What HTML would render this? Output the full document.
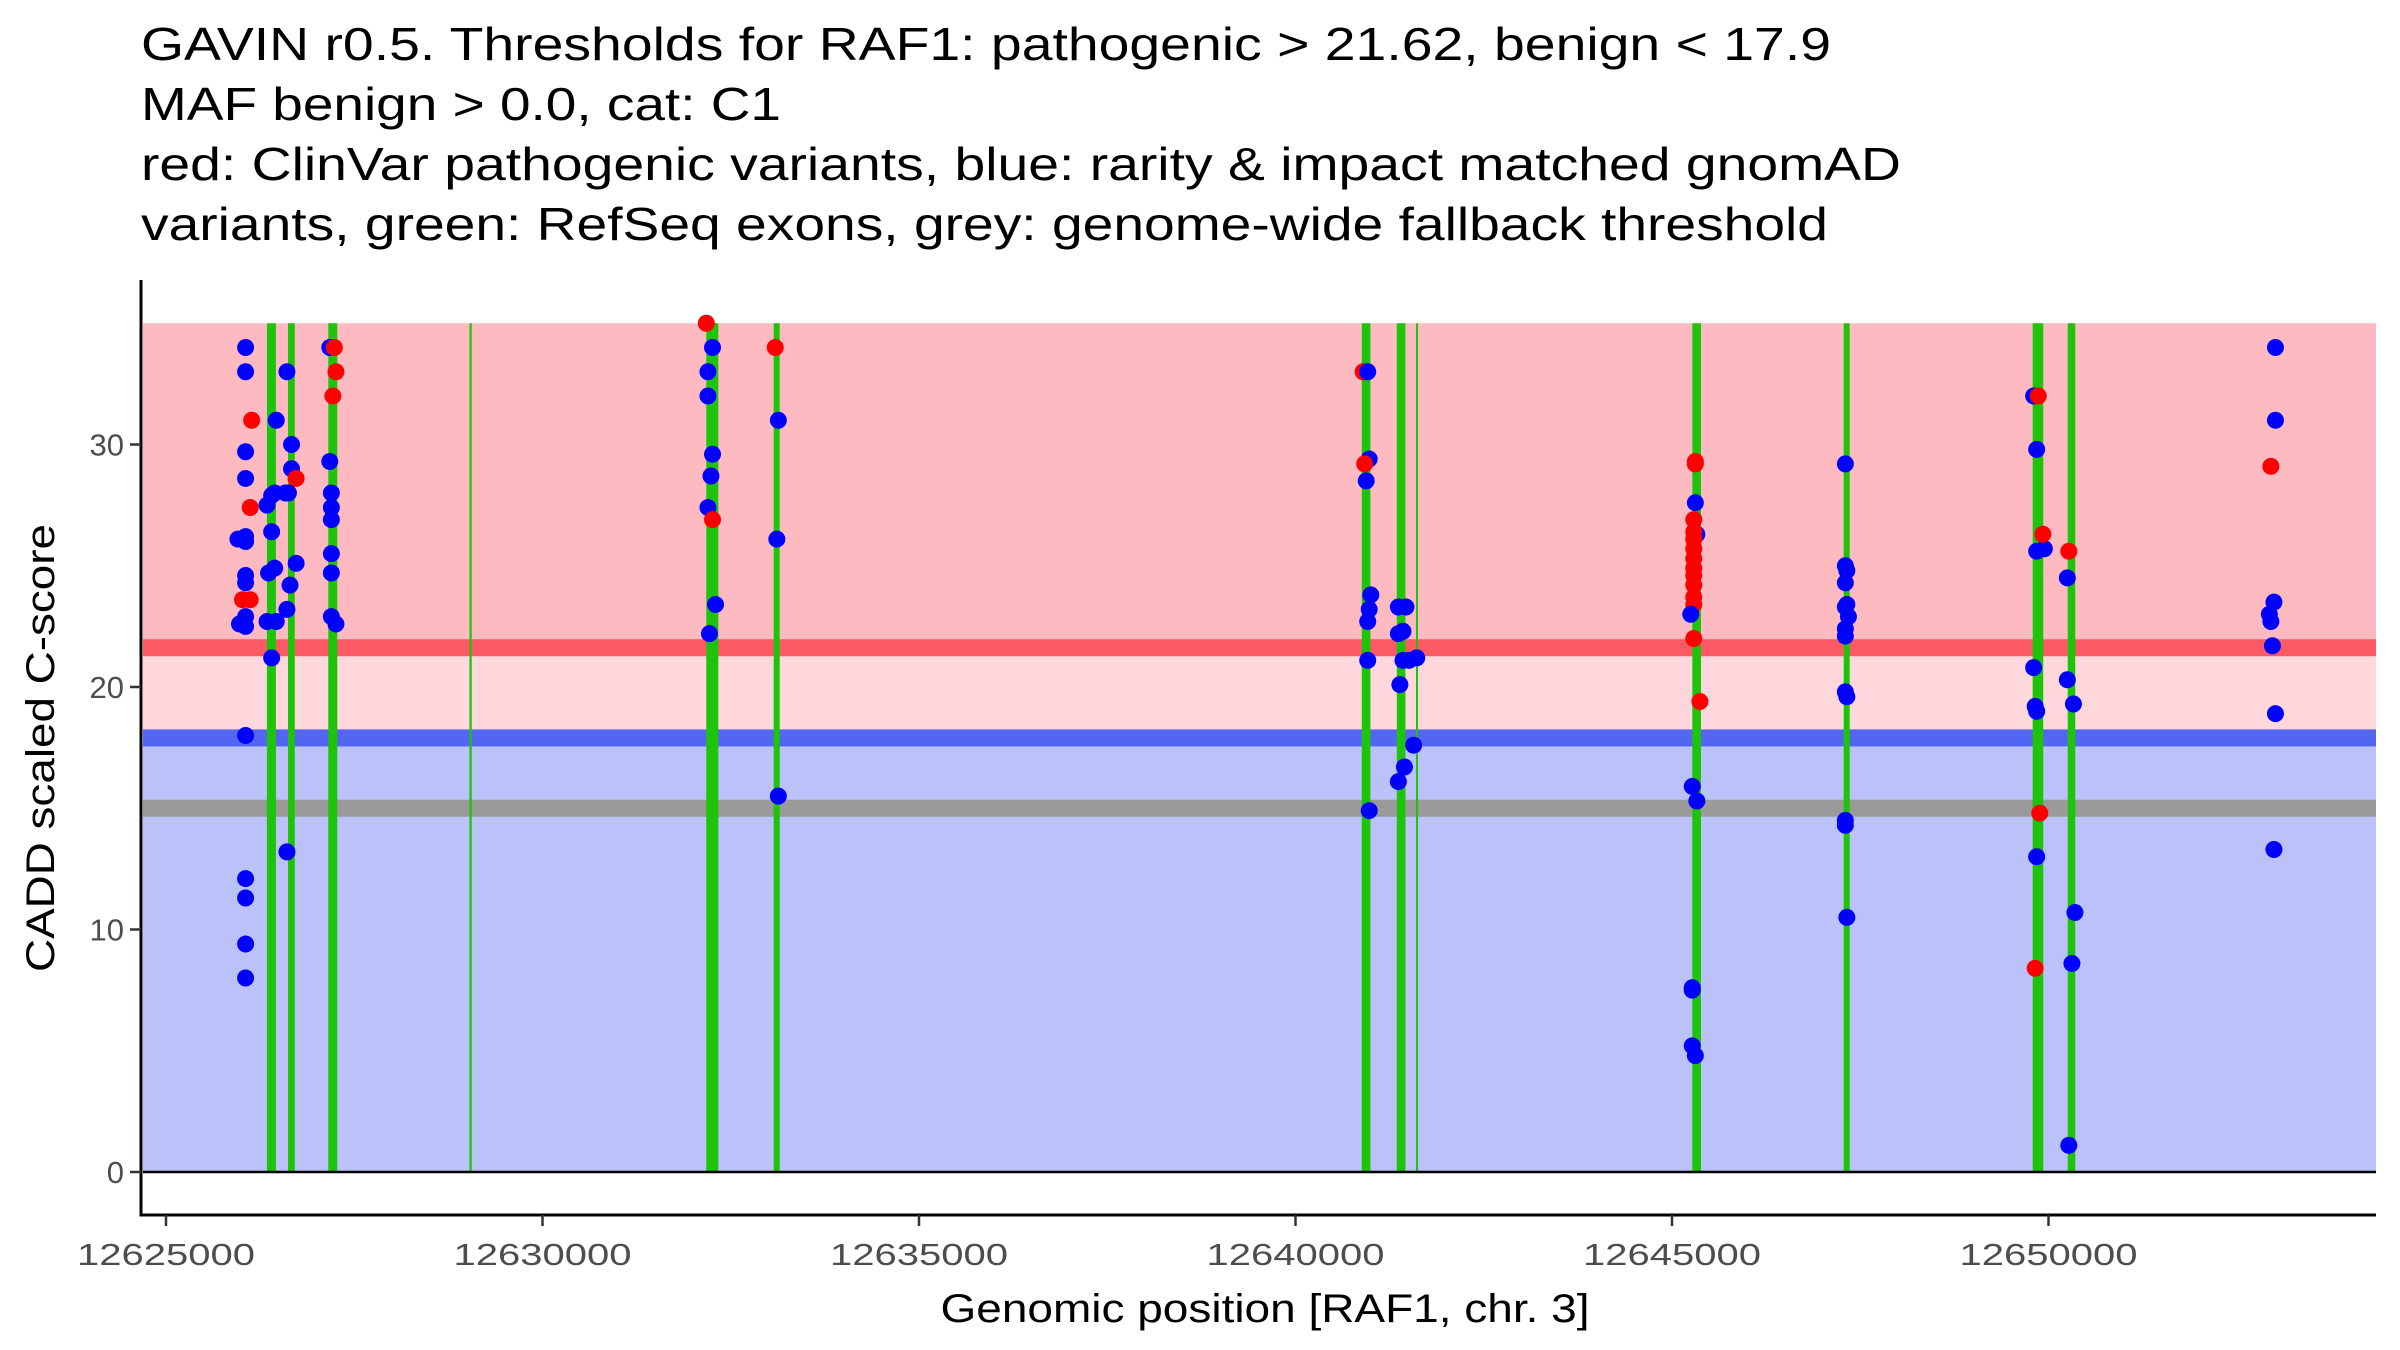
<!DOCTYPE html>
<html><head><meta charset="utf-8"><style>
html,body{margin:0;padding:0;background:#fff;}
svg{display:block;font-family:"Liberation Sans",sans-serif;}
</style></head><body>
<svg id="chart" width="2400" height="1350" viewBox="0 0 2400 1350" xmlns="http://www.w3.org/2000/svg">
<g font-size="46" fill="#000">
<text x="141" y="60" textLength="1690" lengthAdjust="spacingAndGlyphs">GAVIN r0.5. Thresholds for RAF1: pathogenic &gt; 21.62, benign &lt; 17.9</text>
<text x="141" y="120" textLength="640" lengthAdjust="spacingAndGlyphs">MAF benign &gt; 0.0, cat: C1</text>
<text x="141" y="180" textLength="1760" lengthAdjust="spacingAndGlyphs">red: ClinVar pathogenic variants, blue: rarity &amp; impact matched gnomAD</text>
<text x="141" y="240" textLength="1687" lengthAdjust="spacingAndGlyphs">variants, green: RefSeq exons, grey: genome-wide fallback threshold</text>
</g>
<g id="bands"></g>
<g id="exons"></g>
<g id="points"></g>
<g id="axes"></g>
<text transform="translate(54,748) rotate(-90)" text-anchor="middle" font-size="40" textLength="448" lengthAdjust="spacingAndGlyphs">CADD scaled C-score</text>
<text x="1265" y="1322" text-anchor="middle" font-size="40" textLength="649" lengthAdjust="spacingAndGlyphs">Genomic position [RAF1, chr. 3]</text>
</svg>
<script>
const xTicks = [12625000, 12630000, 12635000, 12640000, 12645000, 12650000];
const yTicks = [0, 10, 20, 30];
const thresholds = [21.62, 17.9, 15.0];
const exonStarts = [12626340,12626620,12627155,12629030,12632175,12633070,12640880,12641345,12641600,12645270,12647280,12649790,12650255];
const exonEnds   = [12626460,12626710,12627275,12629060,12632335,12633150,12640995,12641460,12641615,12645385,12647360,12649930,12650355];
const pointPos = [
12626057,12626057,12626057,12626057,12625955,12626057,12626057,12626057,12626057,12626057,12626057,12625976,12626057,12626057,12626057,12626057,12626057,
12626138,12626118,12626016,12626118,
12626464,12626342,12626403,12626443,12626403,12626362,12626443,12626342,12626464,12626403,
12626606,12626667,12626667,12626586,12626728,12626647,12626606,12626606,12626728,12626626,
12627175,12627175,12627196,12627196,12627196,12627196,12627196,12627196,12627257,12627236,12627257,12627216,
12632176,12632258,12632197,12632197,12632258,12632237,12632197,12632298,12632217,12632258,
12633091,12633132,12633112,12633132,
12640898,12640959,12640979,12640918,12640939,12641000,12640979,12640959,12640959,12640979,
12641366,12641467,12641366,12641427,12641427,12641508,12641610,12641386,12641569,12641447,12641366,
12645310,12645310,12645310,12645330,12645289,12645289,12645289,12645289,12645289,12645289,12645289,12645289,12645289,12645289,12645289,12645371,12645249,12645269,12645330,12645269,12645269,12645269,12645310,
12647302,12647302,12647322,12647302,12647322,12647302,12647343,12647302,12647302,12647302,12647322,12647302,12647302,12647322,
12649803,12649864,12649843,12649843,12649945,12649925,12649803,12649823,12649843,12649884,12649843,12649823,
12650270,12650250,12650250,12650331,12650351,12650311,12650270,
12653014,12653014,12652953,12652994,12652933,12652953,12652974,12653014,12652994];
const pointScore = [
34,33,29.7,28.6,26.1,26.2,26.0,24.6,24.3,22.9,22.5,22.6,18.0,12.1,11.3,9.4,8.0,
31,27.4,23.6,23.6,
31,27.5,27.9,28.0,26.4,24.7,24.9,22.7,22.7,21.2,
33,30.0,29.0,28.0,25.1,24.2,23.2,13.2,28.6,28.0,
34,29.3,28.0,27.4,26.9,25.5,24.7,22.9,22.6,34,33,32,
35,34,33,32,29.6,28.7,27.4,23.4,22.2,26.9,
34,31,26.1,15.5,
33,33,29.4,29.2,28.5,23.8,23.2,22.7,21.1,14.9,
23.3,23.3,22.2,22.3,21.1,21.1,21.2,20.1,17.6,16.7,16.1,
29.3,29.2,27.6,26.3,26.9,26.4,26.1,25.7,25.3,24.9,24.6,24.2,23.7,23.4,22.0,19.4,23.0,15.9,15.3,7.5,7.6,5.2,4.8,
29.2,25.0,24.8,24.3,23.4,23.3,22.9,22.4,22.1,19.8,19.6,14.5,14.3,10.5,
32.0,32.0,29.8,25.6,25.7,26.3,20.8,19.2,19.0,14.8,13.0,8.4,
25.6,24.5,20.3,19.3,10.7,8.6,1.1,
34.0,31.0,29.1,23.5,23.0,22.7,21.7,18.9,13.3];
const pointClass = [
"b","b","b","b","b","b","b","b","b","b","b","b","b","b","b","b","b",
"r","r","r","r",
"b","b","b","b","b","b","b","b","b","b",
"b","b","b","b","b","b","b","b","r","b",
"b","b","b","b","b","b","b","b","b","r","r","r",
"r","b","b","b","b","b","b","b","b","r",
"r","b","b","b",
"r","b","b","r","b","b","b","b","b","b",
"b","b","b","b","b","b","b","b","b","b","b",
"r","r","b","b","r","r","r","r","r","r","r","r","r","r","r","r","b","b","b","b","b","b","b",
"b","b","b","b","b","b","b","b","b","b","b","b","b","b",
"b","r","b","b","b","r","b","b","b","r","b","r",
"r","b","b","b","b","b","b",
"b","b","r","b","b","b","b","b","b"];

const NS = "http://www.w3.org/2000/svg";
const X0 = 166, XPER = 376.5/5000, Y0 = 1172, YPER = 24.25;
const PL = 141, PR = 2376, PB = 1215, PT = 280;
function sx(g){ return X0 + (g - 12625000) * XPER; }
function sy(v){ return Y0 - v * YPER; }
function mk(tag, attrs, parent){ const e = document.createElementNS(NS, tag); for (const k in attrs) e.setAttribute(k, attrs[k]); parent.appendChild(e); return e; }

const bands = document.getElementById('bands');
const bx = PL + 2, bw = PR - bx;
let r;
r = mk('rect', {x:bx, y:sy(35), width:bw, height:sy(thresholds[0]) - sy(35), fill:'#fdbbc1'}, bands);


r = mk('rect', {x:bx, y:sy(thresholds[0]), width:bw, height:sy(thresholds[1]) - sy(thresholds[0]), fill:'#fdd7dc'}, bands);


r = mk('rect', {x:bx, y:sy(thresholds[1]), width:bw, height:sy(0) - sy(thresholds[1]), fill:'#bbc1f9'}, bands);


const lineCols = ['#fb5a65', '#5366f2', '#9a9a9a'];
const lineNames = ['pathogenic-threshold-line', 'benign-threshold-line', 'fallback-threshold-line'];
thresholds.forEach((t, i) => {
  const l = mk('rect', {x:bx, y:sy(t) - 8.5, width:bw, height:17, fill:lineCols[i]}, bands);
  
  
});

const exG = document.getElementById('exons');
exonStarts.forEach((s, i) => {
  const x1 = sx(s), x2 = sx(exonEnds[i]);
  const e = mk('rect', {x:x1, y:sy(35), width:Math.max(2, x2 - x1), height:sy(0) - sy(35), fill:'#1ec40a'}, exG);
  
  
});

const zl = mk('line', {x1:bx, x2:PR, y1:sy(0), y2:sy(0), stroke:'#000', 'stroke-width':2.5}, exG);



const pG = document.getElementById('points');
pointPos.forEach((g, i) => {
  const c = mk('circle', {cx:sx(g), cy:sy(pointScore[i]), r:8.5, fill:pointClass[i] === 'r' ? '#ff0000' : '#0000ff'}, pG);
  
  
});

const aG = document.getElementById('axes');
let a = mk('line', {x1:PL, x2:PL, y1:PT, y2:PB + 1.5, stroke:'#000', 'stroke-width':3}, aG);


a = mk('line', {x1:PL - 1.5, x2:PR, y1:PB, y2:PB, stroke:'#000', 'stroke-width':3}, aG);


yTicks.forEach(v => {
  const t = mk('line', {x1:PL - 11, x2:PL, y1:sy(v), y2:sy(v), stroke:'#333', 'stroke-width':2.5}, aG);
  
  
  const tx = mk('text', {x:PL - 17, y:sy(v) + 11, 'text-anchor':'end', 'font-size':31, fill:'#4d4d4d'}, aG);
  tx.textContent = String(v);
  
  
});
xTicks.forEach(v => {
  const t = mk('line', {x1:sx(v), x2:sx(v), y1:PB, y2:PB + 11, stroke:'#333', 'stroke-width':2.5}, aG);
  
  
  const tx = mk('text', {x:sx(v), y:PB + 50, 'text-anchor':'middle', 'font-size':31, fill:'#4d4d4d', textLength:178, lengthAdjust:'spacingAndGlyphs'}, aG);
  tx.textContent = String(v);
  
  
});
</script>
</body></html>
